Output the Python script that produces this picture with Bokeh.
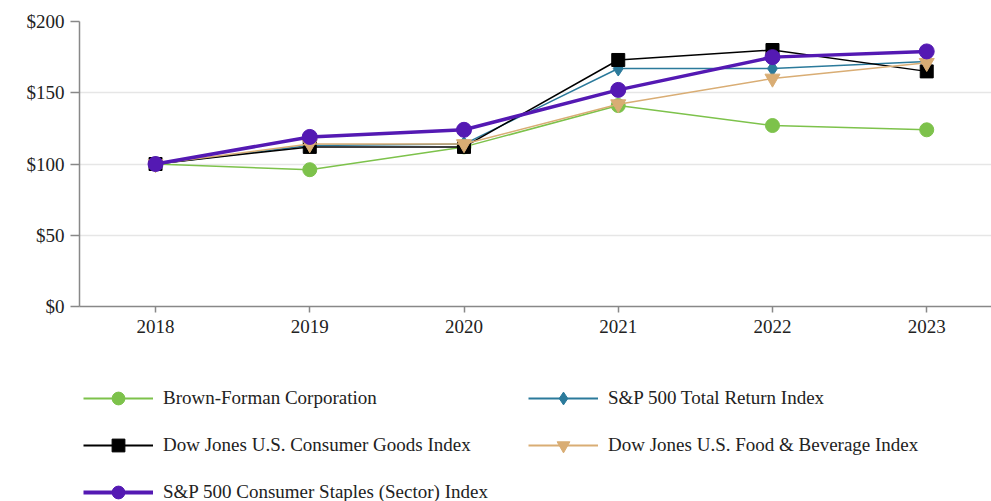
from bokeh.plotting import figure
from bokeh.layouts import column
from bokeh.models import Range1d, FixedTicker, Legend, LegendItem, NumeralTickFormatter
from bokeh.embed import file_html
from bokeh.resources import INLINE

years = [2018, 2019, 2020, 2021, 2022, 2023]
brown_forman = [100, 96, 112, 141, 127, 124]
sp500_total = [100, 113, 114, 167, 167, 172]
dj_consumer_goods = [100, 112, 112, 173, 180, 165]
dj_food_bev = [100, 114, 114, 142, 160, 171]
sp500_staples = [100, 119, 124, 152, 175, 179]
y_ticks = [0, 50, 100, 150, 200]

FONT = "Liberation Serif"
FS = "19px"

p = figure(width=991, height=350, output_backend="svg", toolbar_location=None,
           x_range=Range1d(2017.507, 2023.42), y_range=Range1d(0, 200),
           min_border_left=79, min_border_right=0, min_border_top=21, min_border_bottom=44)
p.outline_line_color = None
p.xgrid.grid_line_color = None
p.ygrid.grid_line_color = "#e6e6e6"
p.ygrid.grid_line_width = 1.5

p.yaxis.ticker = FixedTicker(ticks=y_ticks)
p.yaxis.formatter = NumeralTickFormatter(format="$0")
p.xaxis.ticker = FixedTicker(ticks=years)
for ax in (p.xaxis[0], p.yaxis[0]):
    ax.axis_line_color = "#888888"
    ax.axis_line_width = 1.5
    ax.major_tick_line_color = "#888888"
    ax.major_tick_line_width = 1.5
    ax.minor_tick_line_color = None
    ax.major_tick_in = 0
    ax.major_label_text_font = FONT
    ax.major_label_text_font_size = FS
    ax.major_label_text_color = "#222222"
p.yaxis.major_tick_out = 9
p.xaxis.major_tick_out = 6
p.yaxis.major_label_standoff = 6
p.xaxis.major_label_standoff = 7

series = [
    ("Brown-Forman Corporation", brown_forman, "#7dc24b", 1.5, "circle", 14),
    ("S&P 500 Total Return Index", sp500_total, "#2b7a9b", 1.5, "diamond", 15),
    ("Dow Jones U.S. Consumer Goods Index", dj_consumer_goods, "#000000", 1.5, "square", 13),
    ("Dow Jones U.S. Food & Beverage Index", dj_food_bev, "#d9ad74", 1.5, "inverted_triangle", 15),
    ("S&P 500 Consumer Staples (Sector) Index", sp500_staples, "#5419b3", 3.5, "circle", 15),
]

# legend strip below the chart (its renderers hold the same series, outside its view)
p2 = figure(width=991, height=151, output_backend="svg", toolbar_location=None,
            x_range=Range1d(0, 1), y_range=Range1d(0, 1),
            x_axis_location=None, y_axis_location=None,
            min_border_left=0, min_border_right=0, min_border_top=0, min_border_bottom=0)
p2.grid.visible = False
p2.outline_line_color = None

items = []
for name, vals, color, lw, marker, size in series:
    p.line(years, vals, line_color=color, line_width=lw)
    p.scatter(years, vals, marker=marker, size=size, fill_color=color, line_color=color)
    l2 = p2.line(years, vals, line_color=color, line_width=lw + 0.5)
    s2 = p2.scatter(years, vals, marker=marker, size=size, fill_color=color, line_color=color)
    items.append(LegendItem(label=name, renderers=[l2, s2]))

legend = Legend(items=items, location=(4, -7), orientation="horizontal", ncols=2,
                glyph_width=70, glyph_height=32, label_height=32, label_width=350,
                label_standoff=10, spacing=15, padding=0, margin=0,
                border_line_color=None, background_fill_alpha=0,
                label_text_font=FONT, label_text_font_size=FS,
                label_text_color="#222222")
p2.add_layout(legend, "center")

layout = column(p, p2, spacing=0)
open("out.html", "w").write(file_html(layout, INLINE))
